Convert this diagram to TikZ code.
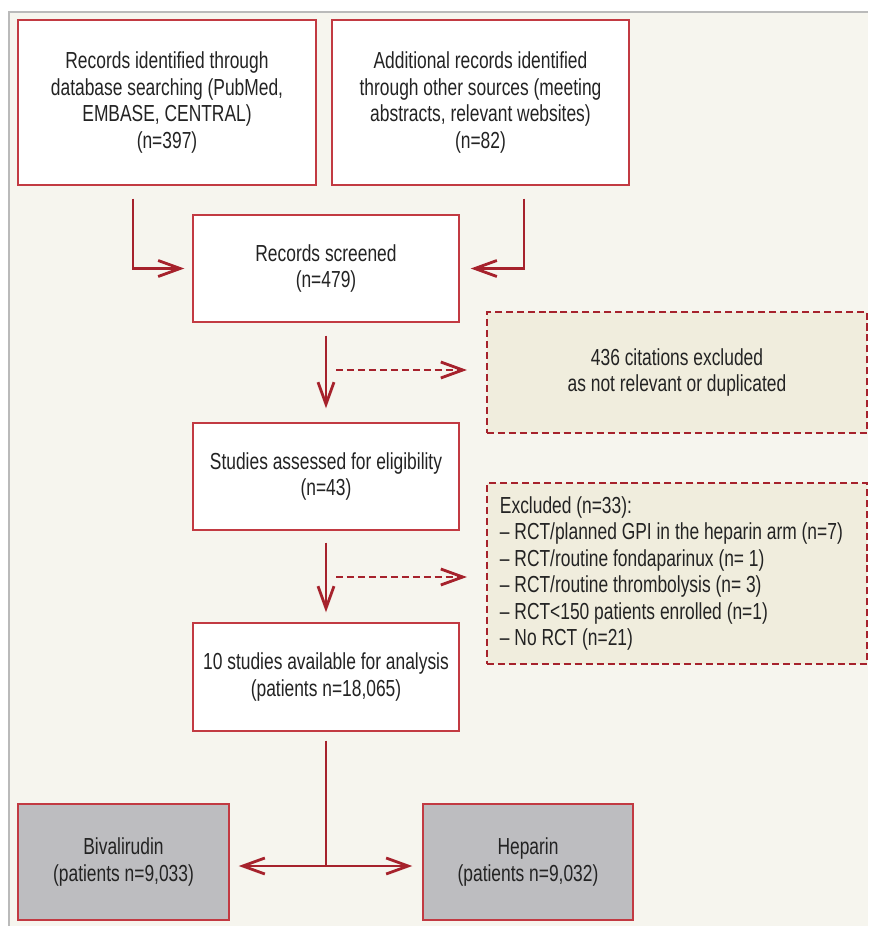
\documentclass[tikz,border=0pt]{standalone}
\usepackage{fontspec}
\setmainfont{Liberation Sans}[FakeStretch=0.75]
\usepackage{xcolor}
\usepackage{tikz}
\usetikzlibrary{
	arrows.meta,shapes
}

\definecolor{boxred}{HTML}{C23A42}
\definecolor{arrred}{HTML}{A6222C}
\definecolor{panel}{HTML}{F6F5EE}
\definecolor{exclfill}{HTML}{F0EDDD}
\definecolor{armgray}{HTML}{BDBDC0}
\definecolor{txt}{HTML}{232323}

\tikzset{
	flowbox/.style={draw=boxred, line width=1pt, fill=white, align=center, inner sep=0pt,
		font=\fontsize{16.5}{18.9}\selectfont, text=txt},
	exclbox/.style={flowbox, draw=arrred, line width=1.5pt, fill=exclfill,
		dash pattern=on 5pt off 2.8pt},
	armbox/.style={flowbox, fill=armgray},
	flowline/.style={arrred, line width=2pt}
}

\begin{document}
\begin{tikzpicture}[x=0.025cm, y=-0.025cm, >={Straight Barb[length=5.5mm,width=4mm]}]
		\useasboundingbox (0,0) rectangle (868,926);
		\fill[panel] (9,12) rectangle (868,926);
		\draw[black!27, line width=1.1pt] (9,926) -- (9,12) -- (868,12);
		%
		\node[flowbox, minimum width=7.45cm, minimum height=4.125cm] (recDb) at (167,102.5)
			{Records identified through\\database searching (PubMed,\\EMBASE, CENTRAL)\\(n=397)};
		\node[flowbox, minimum width=7.425cm, minimum height=4.125cm] (recOther) at (480.5,102.5)
			{Additional records identified\\through other sources (meeting\\abstracts, relevant websites)\\(n=82)};
		\node[flowbox, minimum width=6.65cm, minimum height=2.675cm] (screened) at (326,268.5)
			{Records screened\\(n=479)};
		\node[exclbox, minimum width=9.5cm, minimum height=3.025cm] (citExcl) at (677,372.5)
			{436 citations excluded\\as not relevant or duplicated};
		\node[flowbox, minimum width=6.65cm, minimum height=2.675cm] (eligible) at (326,476.5)
			{Studies assessed for eligibility\\(n=43)};
		\node[exclbox, align=flush left, text width=8.85cm, minimum width=9.5cm, minimum height=4.525cm] (studExcl) at (677,573.5)
			{Excluded (n=33):\\
			– RCT/planned GPI in the heparin arm (n=7)\\
			– RCT/routine fondaparinux (n= 1)\\
			– RCT/routine thrombolysis (n= 3)\\
			– RCT<150 patients enrolled (n=1)\\
			– No RCT (n=21)};
		\node[flowbox, minimum width=6.65cm, minimum height=2.7cm] (avail) at (326,677)
			{10 studies available for analysis\\(patients n=18,065)};
		\node[armbox, minimum width=5.275cm, minimum height=2.9cm] (biva) at (123.5,862)
			{Bivalirudin\\(patients n=9,033)};
		\node[armbox, minimum width=5.25cm, minimum height=2.9cm] (hep) at (528,862)
			{Heparin\\(patients n=9,032)};
		%
		\coordinate (toCit) at (336,370);
		\coordinate (toStud) at (336,577);
		\coordinate (split) at (326,866);
		%
		\path[->, flowline]
			([xshift=-0.85cm]recDb.south) edge[shorten <=0.325cm, shorten >=0.2cm, to path={|- (\tikztotarget)}] (screened)
			([xshift=1.0875cm]recOther.south) edge[shorten <=0.325cm, shorten >=0.275cm, to path={|- (\tikztotarget)}] (screened)
			(screened) edge[shorten <=0.325cm, shorten >=0.35cm] (eligible)
			(eligible) edge[shorten <=0.3cm, shorten >=0.25cm] (avail)
			(split) edge[shorten >=0.225cm] (split -| biva.east)
			(split) edge[shorten >=0.25cm] (split -| hep.west);
		\draw[flowline, shorten <=0.225cm] (avail) -- (split);
		%
		\path[->, flowline, dash pattern=on 5pt off 2.8pt]
			(toCit) edge[shorten >=0.475cm] (toCit -| citExcl.west)
			(toStud) edge[shorten >=0.475cm] (toStud -| studExcl.west);
	\end{tikzpicture}
\end{document}
